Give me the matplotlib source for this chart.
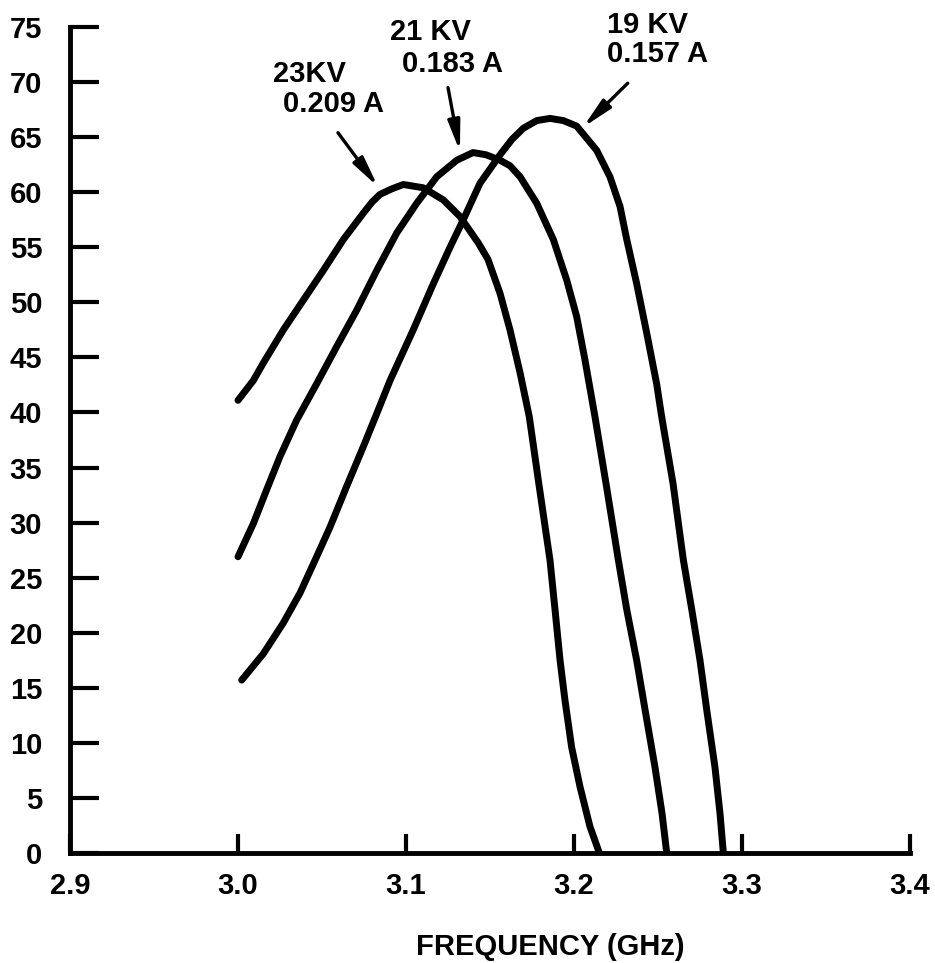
import numpy as np
import matplotlib
matplotlib.use('Agg')
import matplotlib.pyplot as plt

plt.rcParams['font.family'] = ['Liberation Sans', 'DejaVu Sans']
plt.rcParams['font.weight'] = 'bold'

# frequency (GHz) / output
freq_23kv = [3.000, 3.0091, 3.0151, 3.0270, 3.0389, 3.0508, 3.0627, 3.0746, 3.0798, 3.0845,
             3.0915, 3.0984, 3.1103, 3.1222, 3.1321, 3.1430, 3.1488, 3.1560, 3.1619, 3.1679,
             3.1734, 3.1790, 3.1857, 3.1887, 3.1917, 3.1946, 3.1986, 3.2036, 3.2095, 3.2151]
val_23kv = [41.1, 42.9, 44.5, 47.5, 50.2, 52.9, 55.7, 58.1, 59.1, 59.8,
            60.3, 60.7, 60.4, 59.3, 57.8, 55.4, 53.9, 50.8, 47.5, 43.6,
            39.6, 33.6, 26.6, 22.1, 17.5, 13.9, 9.6, 6.0, 2.4, 0.0]

freq_21kv = [3.000, 3.0091, 3.0171, 3.0250, 3.0349, 3.0468, 3.0588, 3.0707, 3.0826, 3.0945,
             3.1064, 3.1183, 3.1302, 3.1399, 3.1476, 3.1560, 3.1619, 3.1679, 3.1778, 3.1877,
             3.1957, 3.2016, 3.2065, 3.2125, 3.2190, 3.2264, 3.2314, 3.2373, 3.2423, 3.2482,
             3.2524, 3.2552]
val_21kv = [26.9, 29.9, 33.0, 36.0, 39.3, 42.6, 46.0, 49.3, 52.9, 56.3,
            59.0, 61.4, 62.9, 63.6, 63.4, 62.9, 62.4, 61.4, 59.0, 55.7,
            52.0, 48.7, 44.8, 39.6, 33.6, 26.6, 22.1, 17.5, 13.0, 7.8,
            3.6, 0.0]

freq_19kv = [3.0022, 3.0151, 3.0270, 3.0369, 3.0468, 3.0548, 3.0647, 3.0746, 3.0826, 3.0905,
             3.1043, 3.1163, 3.1262, 3.1341, 3.1440, 3.1560, 3.1631, 3.1698, 3.1778, 3.1857,
             3.1937, 3.2016, 3.2135, 3.2214, 3.2274, 3.2314, 3.2373, 3.2433, 3.2492, 3.2522,
             3.2589, 3.2651, 3.2701, 3.2750, 3.2790, 3.2839, 3.2869, 3.2889]
val_19kv = [15.7, 18.1, 20.9, 23.6, 26.9, 29.6, 33.3, 36.9, 39.9, 42.9,
            47.5, 51.7, 55.0, 57.5, 60.8, 63.4, 64.8, 65.8, 66.5, 66.7,
            66.5, 66.0, 63.8, 61.4, 58.7, 55.7, 51.7, 47.2, 42.6, 39.6,
            33.6, 26.6, 22.1, 17.5, 13.0, 7.8, 3.6, 0.0]

xticks = [2.9, 3.0, 3.1, 3.2, 3.3, 3.4]
xticklabels = ['2.9', '3.0', '3.1', '3.2', '3.3', '3.4']
yticks = list(range(0, 80, 5))

# labels: (line1, line2, text pos line1, text pos line2, arrow start, arrow tip)
labels = [
    ('23KV', '0.209 A', (3.0208, 70.0), (3.0268, 67.3), (3.0595, 65.4), (3.0833, 60.5)),
    ('21 KV', '0.183 A', (3.0905, 73.8), (3.0976, 70.9), (3.125, 69.5), (3.1321, 63.7)),
    ('19 KV', '0.157 A', (3.2196, 74.5), (3.2196, 71.8), (3.232, 69.9), (3.2054, 65.9)),
]

fig = plt.figure(figsize=(9.35, 9.63), dpi=100)
ax = fig.add_axes([70/935., 110/963., 840/935., 826/963.])

for fx, fy in [(freq_23kv, val_23kv), (freq_21kv, val_21kv), (freq_19kv, val_19kv)]:
    ax.plot(fx, fy, color='k', lw=5, solid_capstyle='round', solid_joinstyle='round')

ax.set_xlim(2.9, 3.4)
ax.set_ylim(0, 75)
for s in ['top', 'right']:
    ax.spines[s].set_visible(False)
for s in ['left', 'bottom']:
    ax.spines[s].set_linewidth(3.5)
    ax.spines[s].set_capstyle('projecting')

ax.set_xticks(xticks)
ax.set_xticklabels(xticklabels)
ax.set_yticks(yticks)
ax.tick_params(axis='y', direction='in', length=21, width=3, pad=20, labelsize=21)
ax.tick_params(axis='x', direction='in', length=14, width=3, pad=14, labelsize=21)

for l1, l2, p1, p2, a0, a1 in labels:
    ax.text(p1[0], p1[1], l1, ha='left', va='baseline', fontsize=21, fontweight='bold')
    ax.text(p2[0], p2[1], l2, ha='left', va='baseline', fontsize=21, fontweight='bold')
    ax.annotate('', xy=a1, xytext=a0,
                arrowprops=dict(arrowstyle='-|>,head_length=0.9,head_width=0.18',
                                mutation_scale=20, lw=2.4, color='k',
                                shrinkA=0, shrinkB=0))

ax.text(3.186, -9.3, 'FREQUENCY (GHz)', ha='center', va='baseline',
        fontsize=21, fontweight='bold', clip_on=False)

plt.savefig('out.png', dpi=100)
